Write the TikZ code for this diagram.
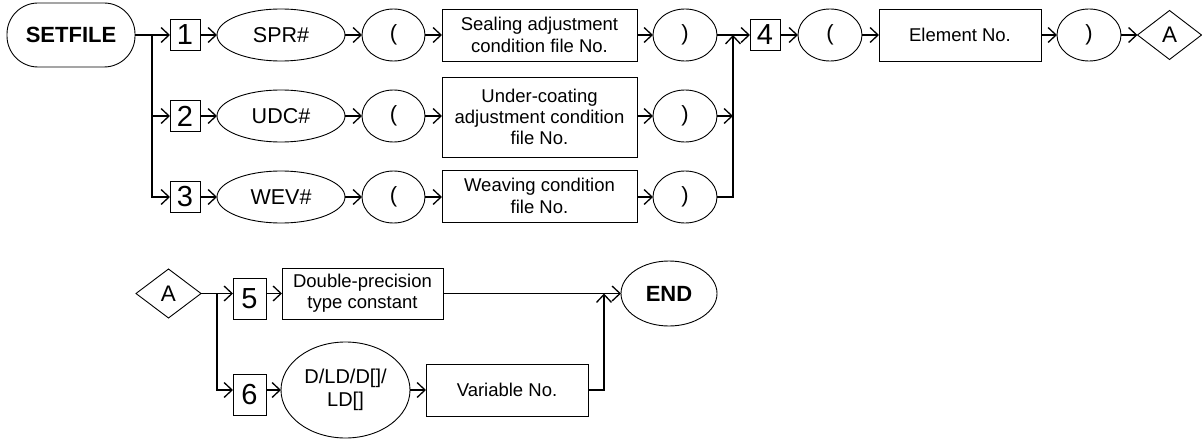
\documentclass[tikz,border=0pt]{standalone}
\usepackage{fontspec}
\setmainfont{Liberation Sans}
\usetikzlibrary{arrows.meta,shapes.geometric}
\begin{document}
\begin{tikzpicture}[x=1pt,y=-1pt,
  every node/.style={inner sep=0pt,outer sep=0pt,draw,line width=0.9pt,align=center},
  term/.style={rounded corners=31pt,minimum width=128pt,minimum height=64pt,font=\fontsize{22}{24}\selectfont\bfseries},
  numbox/.style={rectangle,minimum width=30pt,minimum height=31pt,font=\fontsize{29}{30}\selectfont},
  numboxb/.style={rectangle,minimum width=33pt,minimum height=41pt,font=\fontsize{29}{30}\selectfont},
  oval/.style={ellipse,minimum width=128pt,minimum height=52pt,font=\fontsize{21.5}{24}\selectfont},
  paren/.style={ellipse,minimum width=63pt,minimum height=52pt,font=\fontsize{22}{24}\selectfont},
  textbox/.style={rectangle,minimum width=195pt,minimum height=52pt,font=\fontsize{18.5}{21.3}\selectfont},
  dia/.style={diamond,minimum width=64pt,minimum height=49pt,font=\fontsize{22.5}{24}\selectfont},
  conn/.style={line width=1.3pt,-{Straight Barb[length=8pt,width=15pt,line width=1.3pt]}},
  line/.style={line width=1.3pt}
]
\useasboundingbox (0,0) rectangle (1202,441);
% top rows
\node[term] (setfile) at (71,35) {SETFILE};
\node[numbox] (b1) at (185,35) {1};
\node[numbox] (b2) at (185,116) {2};
\node[numbox] (b3) at (185,197) {3};
\node[oval] (e1) at (281,35) {SPR\#};
\node[oval] (e2) at (281,116) {UDC\#};
\node[oval] (e3) at (281,197) {WEV\#};
\node[paren] (p1) at (393.5,35) {(};
\node[paren] (p2) at (393.5,116) {(};
\node[paren] (p3) at (393.5,197) {(};
\node[textbox] (s1) at (539.5,35) {Sealing adjustment\\condition file No.};
\node[textbox,minimum height=80pt] (s2) at (539.5,117) {Under-coating\\adjustment condition\\file No.};
\node[textbox] (s3) at (539.5,196) {Weaving condition\\file No.};
\node[paren,minimum width=64pt] (q1) at (685,35) {)};
\node[paren,minimum width=64pt] (q2) at (685,116) {)};
\node[paren,minimum width=64pt] (q3) at (685,197) {)};
\node[numbox] (b4) at (765,35) {4};
\node[paren,minimum width=64pt] (p4) at (830,35) {(};
\node[textbox,minimum width=162pt] (el) at (960,35) {Element No.};
\node[paren,minimum width=64pt] (q4) at (1089,35) {)};
\node[dia] (dA) at (1169.5,35) {A};
\coordinate (jl) at (152,35);
\coordinate (jr) at (733,35);
% connectors top
\draw[conn] (setfile.east) -- (b1.west);
\draw[conn] (jl) |- (b2.west);
\draw[conn] (jl) |- (b3.west);
\draw[conn] (b1) -- (e1);
\draw[conn] (b2) -- (e2);
\draw[conn] (b3) -- (e3);
\draw[conn] (e1) -- (p1);
\draw[conn] (e2) -- (p2);
\draw[conn] (e3) -- (p3);
\draw[conn] (p1) -- (s1);
\draw[conn] (p2) -- (s2.west |- p2.east);
\draw[conn] (p3) -- (s3.west |- p3.east);
\draw[conn] (s1) -- (q1);
\draw[conn] (s2.east |- q2.west) -- (q2);
\draw[conn] (s3.east |- q3.west) -- (q3);
\draw[conn] (q1) -- (b4);
\draw[conn] (q2.east) -- (jr |- q2.east);
\draw[conn] (q3.east) -| (jr);
\draw[conn] (b4) -- (p4);
\draw[conn] (p4) -- (el);
\draw[conn] (el) -- (q4);
\draw[conn] (q4) -- (dA);
% bottom
\node[dia,minimum width=65pt] (dB) at (168.5,293.5) {A};
\node[numboxb] (b5) at (249.5,298.5) {5};
\node[numboxb] (b6) at (249.5,394.5) {6};
\node[textbox,minimum width=161pt,minimum height=51pt] (dp) at (362.5,293.5) {Double-precision\\type constant};
\node[ellipse,minimum width=96pt,minimum height=65pt,font=\fontsize{22}{24}\selectfont\bfseries] (end) at (669,293.5) {END};
\node[ellipse,minimum width=129pt,minimum height=96pt,font=\fontsize{20}{23}\selectfont] (dld) at (345.5,390) {D/LD/D[]/\\LD[]};
\node[textbox,minimum width=162pt] (var) at (507,390) {Variable No.};
\coordinate (jb) at (217,293.5);
\coordinate (je) at (604,293.5);
\draw[conn] (dB.east) -- (b5.west |- dB.east);
\draw[conn] (jb) |- (b6.west |- dld.west);
\draw[conn] (b5.east |- dB.east) -- (dp.west);
\draw[conn] (dp.east) -- (end.west);
\draw[conn] (b6.east |- dld.west) -- (dld.west);
\draw[conn] (dld.east) -- (var.west);
\draw[conn] (var.east) -| (je);
\end{tikzpicture}
\end{document}
